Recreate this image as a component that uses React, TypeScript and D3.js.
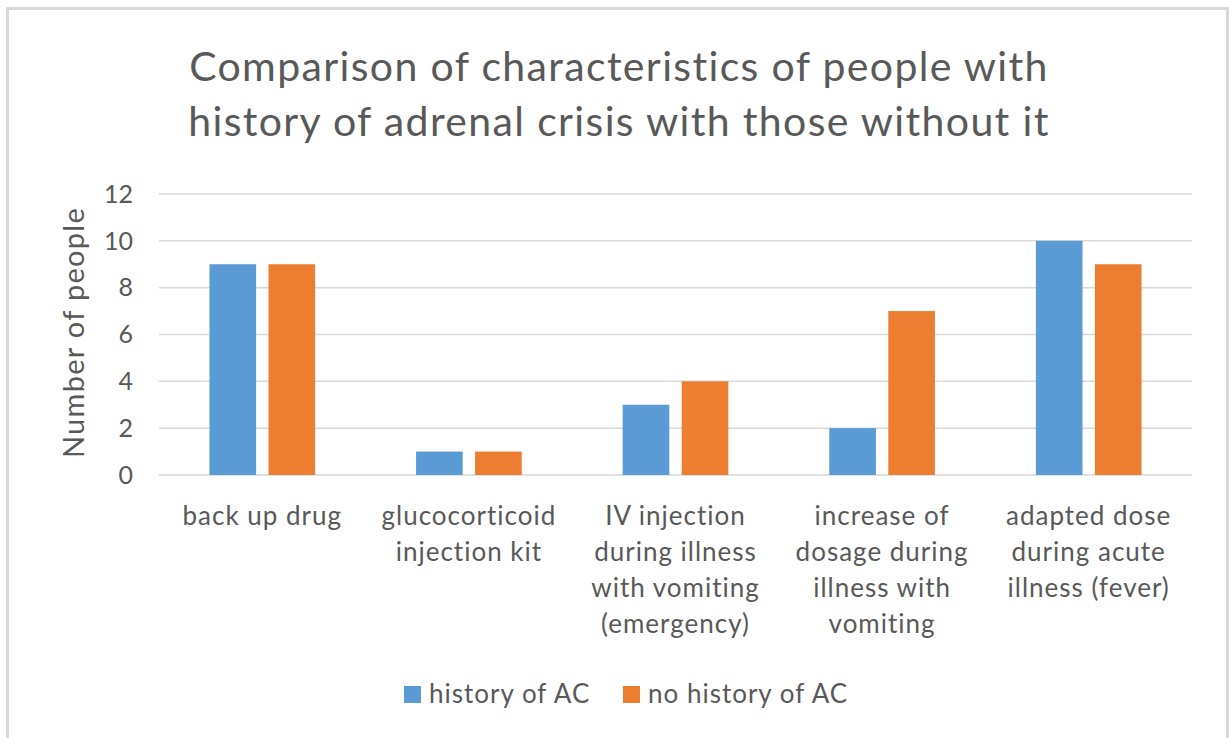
import React from "react";
import * as d3 from "d3";

const categories = [
  ["back up drug"],
  ["glucocorticoid", "injection kit"],
  ["IV injection", "during illness", "with vomiting", "(emergency)"],
  ["increase of", "dosage during", "illness with", "vomiting"],
  ["adapted dose", "during acute", "illness (fever)"],
];
const seriesNames = ["history of AC", "no history of AC"];
const historyAC = [9, 1, 3, 2, 10];
const noHistoryAC = [9, 1, 4, 7, 9];
const yTicks = [0, 2, 4, 6, 8, 10, 12];
const titleLines = [
  "Comparison of characteristics of people with",
  "history of adrenal crisis with those without it",
];

const colors = ["#5b9bd5", "#ed7d31"];
const W = 1229;
const H = 738;
const font = "Lato, 'Open Sans', sans-serif";
const textColor = "#595959";

export default function App() {
  const left = 159, right = 1192, top = 194, bottom = 475;

  const x = d3.scaleBand<number>()
    .domain(d3.range(categories.length))
    .range([left, right])
    .padding(0);
  const xs = d3.scaleBand<number>()
    .domain([0, 1])
    .range([0, x.bandwidth()])
    .paddingInner(0.21)
    .paddingOuter(0.855);
  const y = d3.scaleLinear().domain([0, 12]).range([bottom, top]);

  const series = [historyAC, noHistoryAC];

  return (
    <svg width={W} height={H} style={{ position: "absolute", left: 0, top: 0 }}
      fontFamily={font}>
      <rect x={0} y={0} width={W} height={H} fill="#fff" />
      <rect x={7.5} y={8.5} width={1220} height={740} fill="none"
        stroke="#d9d9d9" strokeWidth={3} />

      {titleLines.map((t, i) => (
        <text key={i} x={619} y={81 + i * 55} textAnchor="middle"
          fontSize={41} letterSpacing={1.35} fill={textColor}>{t}</text>
      ))}

      {/* grid + y ticks */}
      {yTicks.map(v => (
        <g key={v}>
          <line x1={left} x2={right} y1={y(v)} y2={y(v)}
            stroke="#d9d9d9" strokeWidth={1.5} />
          <text x={133} y={y(v)} dy="0.35em" textAnchor="end"
            fontSize={25} fill={textColor}>{v}</text>
        </g>
      ))}

      <text transform={`translate(84,${(top + bottom) / 2 - 2}) rotate(-90)`}
        textAnchor="middle" fontSize={29} letterSpacing={1.3} fill={textColor}>Number of people</text>

      {/* bars */}
      {series.map((vals, s) => vals.map((v, i) => (
        <rect key={`${s}-${i}`}
          x={(x(i) ?? 0) + (xs(s) ?? 0)}
          y={y(v)}
          width={xs.bandwidth()}
          height={y(0) - y(v)}
          fill={colors[s]} />
      )))}

      {/* category labels */}
      {categories.map((lines, i) => (
        <text key={i} textAnchor="middle" fontSize={26} letterSpacing={1} fill={textColor}>
          {lines.map((l, j) => (
            <tspan key={j} x={(x(i) ?? 0) + x.bandwidth() / 2} y={525 + j * 36}>{l}</tspan>
          ))}
        </text>
      ))}

      {/* legend */}
      {seriesNames.map((name, s) => {
        const lx = s === 0 ? 404 : 623;
        return (
          <g key={name}>
            <rect x={lx} y={686} width={17} height={17} fill={colors[s]} />
            <text x={lx + 25} y={703} fontSize={26} letterSpacing={1} fill={textColor}>{name}</text>
          </g>
        );
      })}
    </svg>
  );
}
